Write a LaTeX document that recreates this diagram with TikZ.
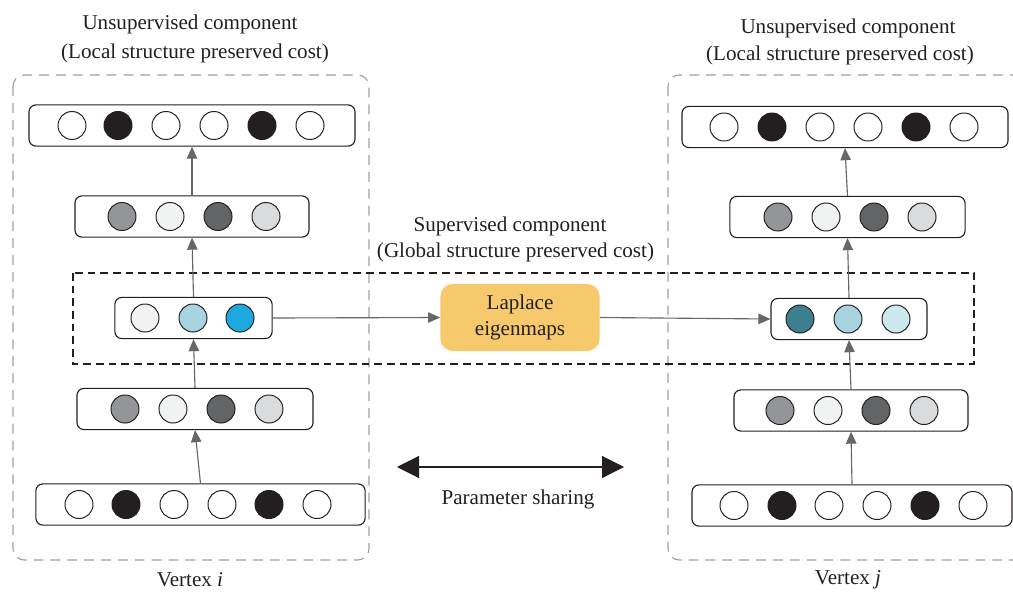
\documentclass[tikz,border=0pt]{standalone}
\usepackage{fontspec}
\setmainfont{Liberation Serif}
\usetikzlibrary{arrows.meta}

\definecolor{inkdark}{HTML}{231F20}
\definecolor{gA}{HTML}{939598}
\definecolor{gB}{HTML}{F1F2F2}
\definecolor{gC}{HTML}{636466}
\definecolor{gD}{HTML}{DADBDC}
\definecolor{bA}{HTML}{1DA9E0}
\definecolor{bB}{HTML}{A8D4E0}
\definecolor{tA}{HTML}{3C7F8F}
\definecolor{tB}{HTML}{CFE7EE}
\definecolor{lapfill}{HTML}{F6CA6C}
\definecolor{framegray}{HTML}{A0A0A0}

\tikzset{
  layer/.style={draw=inkdark, line width=0.8pt, rounded corners=5pt, fill=white,
    inner sep=0pt, minimum height=1.03cm},
  unit/.style={circle, draw=inkdark, line width=0.7pt, minimum size=0.7cm, inner sep=0pt},
  arr/.style={-{Triangle[length=0.3cm,width=0.26cm]}, draw=black!60, line width=0.8pt},
  frame/.style={draw=framegray, line width=0.8pt, rounded corners=8pt, dash pattern=on 7pt off 5pt},
  label/.style={text=inkdark, font=\fontsize{15}{18}\selectfont, inner sep=0pt},
}

\begin{document}
\begin{tikzpicture}[x=0.025cm,y=-0.025cm]
  \useasboundingbox (0,0) rectangle (1013,592);
  \clip (0,0) rectangle (1013,592);

  % outer frames of the two vertices
  \draw[frame] (13,75) rectangle (369,560);
  \draw[frame] (668,75) rectangle (1030,560);
  % supervised part
  \draw[draw=inkdark, line width=0.8pt, dash pattern=on 5.5pt off 3.5pt] (73,273) rectangle (974,364);

  % vertex i
  \node[layer, minimum width=8.15cm] (L1) at (192,125.5) {};
  \node[layer, minimum width=5.85cm] (L2) at (192,216.5) {};
  \node[layer, minimum width=3.93cm] (L3) at (193.5,318) {};
  \node[layer, minimum width=5.9cm] (L4) at (195,409) {};
  \node[layer, minimum width=8.23cm] (L5) at (200.5,504.5) {};

  % vertex j
  \node[layer, minimum width=8.15cm] (R1) at (845,127) {};
  \node[layer, minimum width=5.88cm] (R2) at (847.5,217) {};
  \node[layer, minimum width=3.9cm] (R3) at (849,319) {};
  \node[layer, minimum width=5.85cm] (R4) at (851,410.5) {};
  \node[layer, minimum width=8cm] (R5) at (852,505.5) {};

  % units
  \foreach \x/\c [count=\i] in {72/white,118/inkdark,166/white,214/white,262/inkdark,310/white}
    \node[unit, fill=\c] (L1-\i) at (\x,125.5) {};
  \foreach \x/\c [count=\i] in {122/gA,170/gB,218/gC,266/gD}
    \node[unit, fill=\c] (L2-\i) at (\x,216.5) {};
  \foreach \x/\c [count=\i] in {145/gB,193/bB,240/bA}
    \node[unit, fill=\c] (L3-\i) at (\x,318) {};
  \foreach \x/\c [count=\i] in {125/gA,173/gB,221/gC,269/gD}
    \node[unit, fill=\c] (L4-\i) at (\x,409) {};
  \foreach \x/\c [count=\i] in {79/white,126/inkdark,174/white,222/white,269/inkdark,317/white}
    \node[unit, fill=\c] (L5-\i) at (\x,504.5) {};

  \foreach \x/\c [count=\i] in {724/white,772/inkdark,820/white,868/white,916/inkdark,964/white}
    \node[unit, fill=\c] (R1-\i) at (\x,127) {};
  \foreach \x/\c [count=\i] in {778/gA,826/gB,874/gC,922/gD}
    \node[unit, fill=\c] (R2-\i) at (\x,217) {};
  \foreach \x/\c [count=\i] in {800/tA,848/bB,896/tB}
    \node[unit, fill=\c] (R3-\i) at (\x,319) {};
  \foreach \x/\c [count=\i] in {780/gA,828/gB,876/gC,924/gD}
    \node[unit, fill=\c] (R4-\i) at (\x,410.5) {};
  \foreach \x/\c [count=\i] in {734/white,782/inkdark,829/white,877/white,925/inkdark,973/white}
    \node[unit, fill=\c] (R5-\i) at (\x,505.5) {};

  % laplace block
  \node[fill=lapfill, rounded corners=9pt, minimum width=3.98cm, minimum height=1.68cm,
    align=center, text=inkdark, font=\fontsize{15}{18}\selectfont]
    (lap) at (520,317.5) {Laplace\\eigenmaps};

  % connections
  \draw[arr] (L5.north) -- (L4.south);
  \draw[arr] (L4.north) -- (L3.south);
  \draw[arr] (L3.north) -- (L2.south);
  \draw[arr] (L2.north) -- (L1.south);
  \draw[arr] (R5.north) -- (R4.south);
  \draw[arr] (R4.north) -- (R3.south);
  \draw[arr] (R3.north) -- (R2.south);
  \draw[arr] (R2.north) -- (R1.south);
  \draw[arr] (L3.east) -- (lap.west);
  \draw[arr] (lap.east) -- (R3.west);

  % parameter sharing
  \coordinate (ps-l) at (397,467);
  \coordinate (ps-r) at (624,467);
  \draw[{Triangle[length=0.55cm,width=0.55cm]}-{Triangle[length=0.55cm,width=0.55cm]},
    draw=inkdark, line width=0.8pt] (ps-l) -- (ps-r);
  \node[label] (ps) at (518,499) {Parameter sharing};

  % texts
  \node[label] (tL1) at (190,24) {Unsupervised component};
  \node[label] (tL2) at (195,53) {(Local structure preserved cost)};
  \node[label] (tR1) at (848,28) {Unsupervised component};
  \node[label] (tR2) at (840,55) {(Local structure preserved cost)};
  \node[label] (tS1) at (510,226) {Supervised component};
  \node[label] (tS2) at (515.5,252) {(Global structure preserved cost)};
  \node[label] (vi) at (190,580) {Vertex \textit{i}};
  \node[label] (vj) at (848,580) {Vertex \textit{j}};
\end{tikzpicture}
\end{document}
